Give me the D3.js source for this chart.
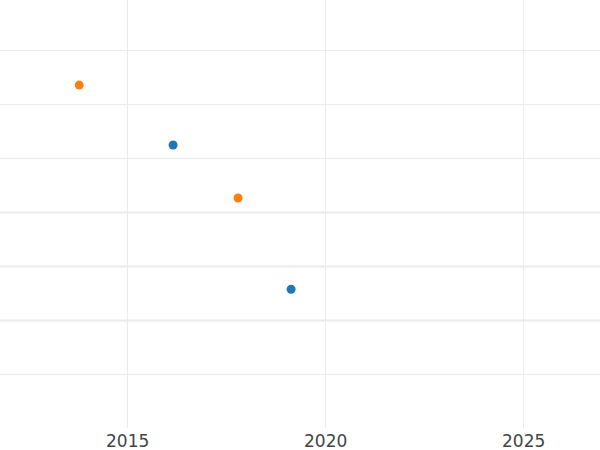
<!DOCTYPE html>
<html><head><meta charset="utf-8">
<script src="https://cdn.jsdelivr.net/npm/d3@7"></script>
<style>html,body{margin:0;padding:0;background:#fff;}</style>
</head><body>
<svg id="c" width="600" height="450"></svg>
<script>
const years = [2013.79, 2016.16, 2017.80, 2019.14];
const values = [6.35, 5.24, 4.26, 2.57];
const series = ["b", "a", "b", "a"];
const xTicks = [2015, 2020, 2025];
const yTicks = [1, 2, 3, 4, 5, 6, 7];

const svg = d3.select("#c");
const x = d3.scaleLinear().domain([2011.79, 2026.94]).range([0, 600]);
const y = d3.scaleLinear().domain([0, 8]).range([428, -4]);
const color = d3.scaleOrdinal().domain(["a", "b"]).range(["#1f77b4", "#ff7f0e"]);

const g = svg.append("g");
g.selectAll("line.h").data(yTicks).join("line")
  .attr("x1", 0).attr("x2", 600)
  .attr("y1", d => y(d) + 0.5).attr("y2", d => y(d) + 0.5)
  .attr("stroke", "#ebebeb").attr("stroke-width", (d) => (d >= 2 && d <= 4) ? 2 : 1);
g.selectAll("line.v").data(xTicks).join("line")
  .attr("y1", 0).attr("y2", 428)
  .attr("x1", d => Math.round(x(d)) + 0.5).attr("x2", d => Math.round(x(d)) + 0.5)
  .attr("stroke", "#ebebeb").attr("stroke-width", 1);

const xAxis = d3.axisBottom(x).tickValues(xTicks).tickFormat(d3.format("d")).tickSize(0).tickPadding(0);
const ax = svg.append("g").attr("transform", "translate(0,428)").call(xAxis);
ax.select(".domain").remove();
ax.selectAll("text").attr("font-family", "DejaVu Sans").attr("font-size", 17)
  .attr("fill", "#444").attr("dy", null).attr("y", 19);

svg.append("g").selectAll("circle").data(years).join("circle")
  .attr("cx", (d) => x(d)).attr("cy", (d, i) => y(values[i]))
  .attr("r", 4.5).attr("fill", (d, i) => color(series[i]));
</script>
</body></html>
